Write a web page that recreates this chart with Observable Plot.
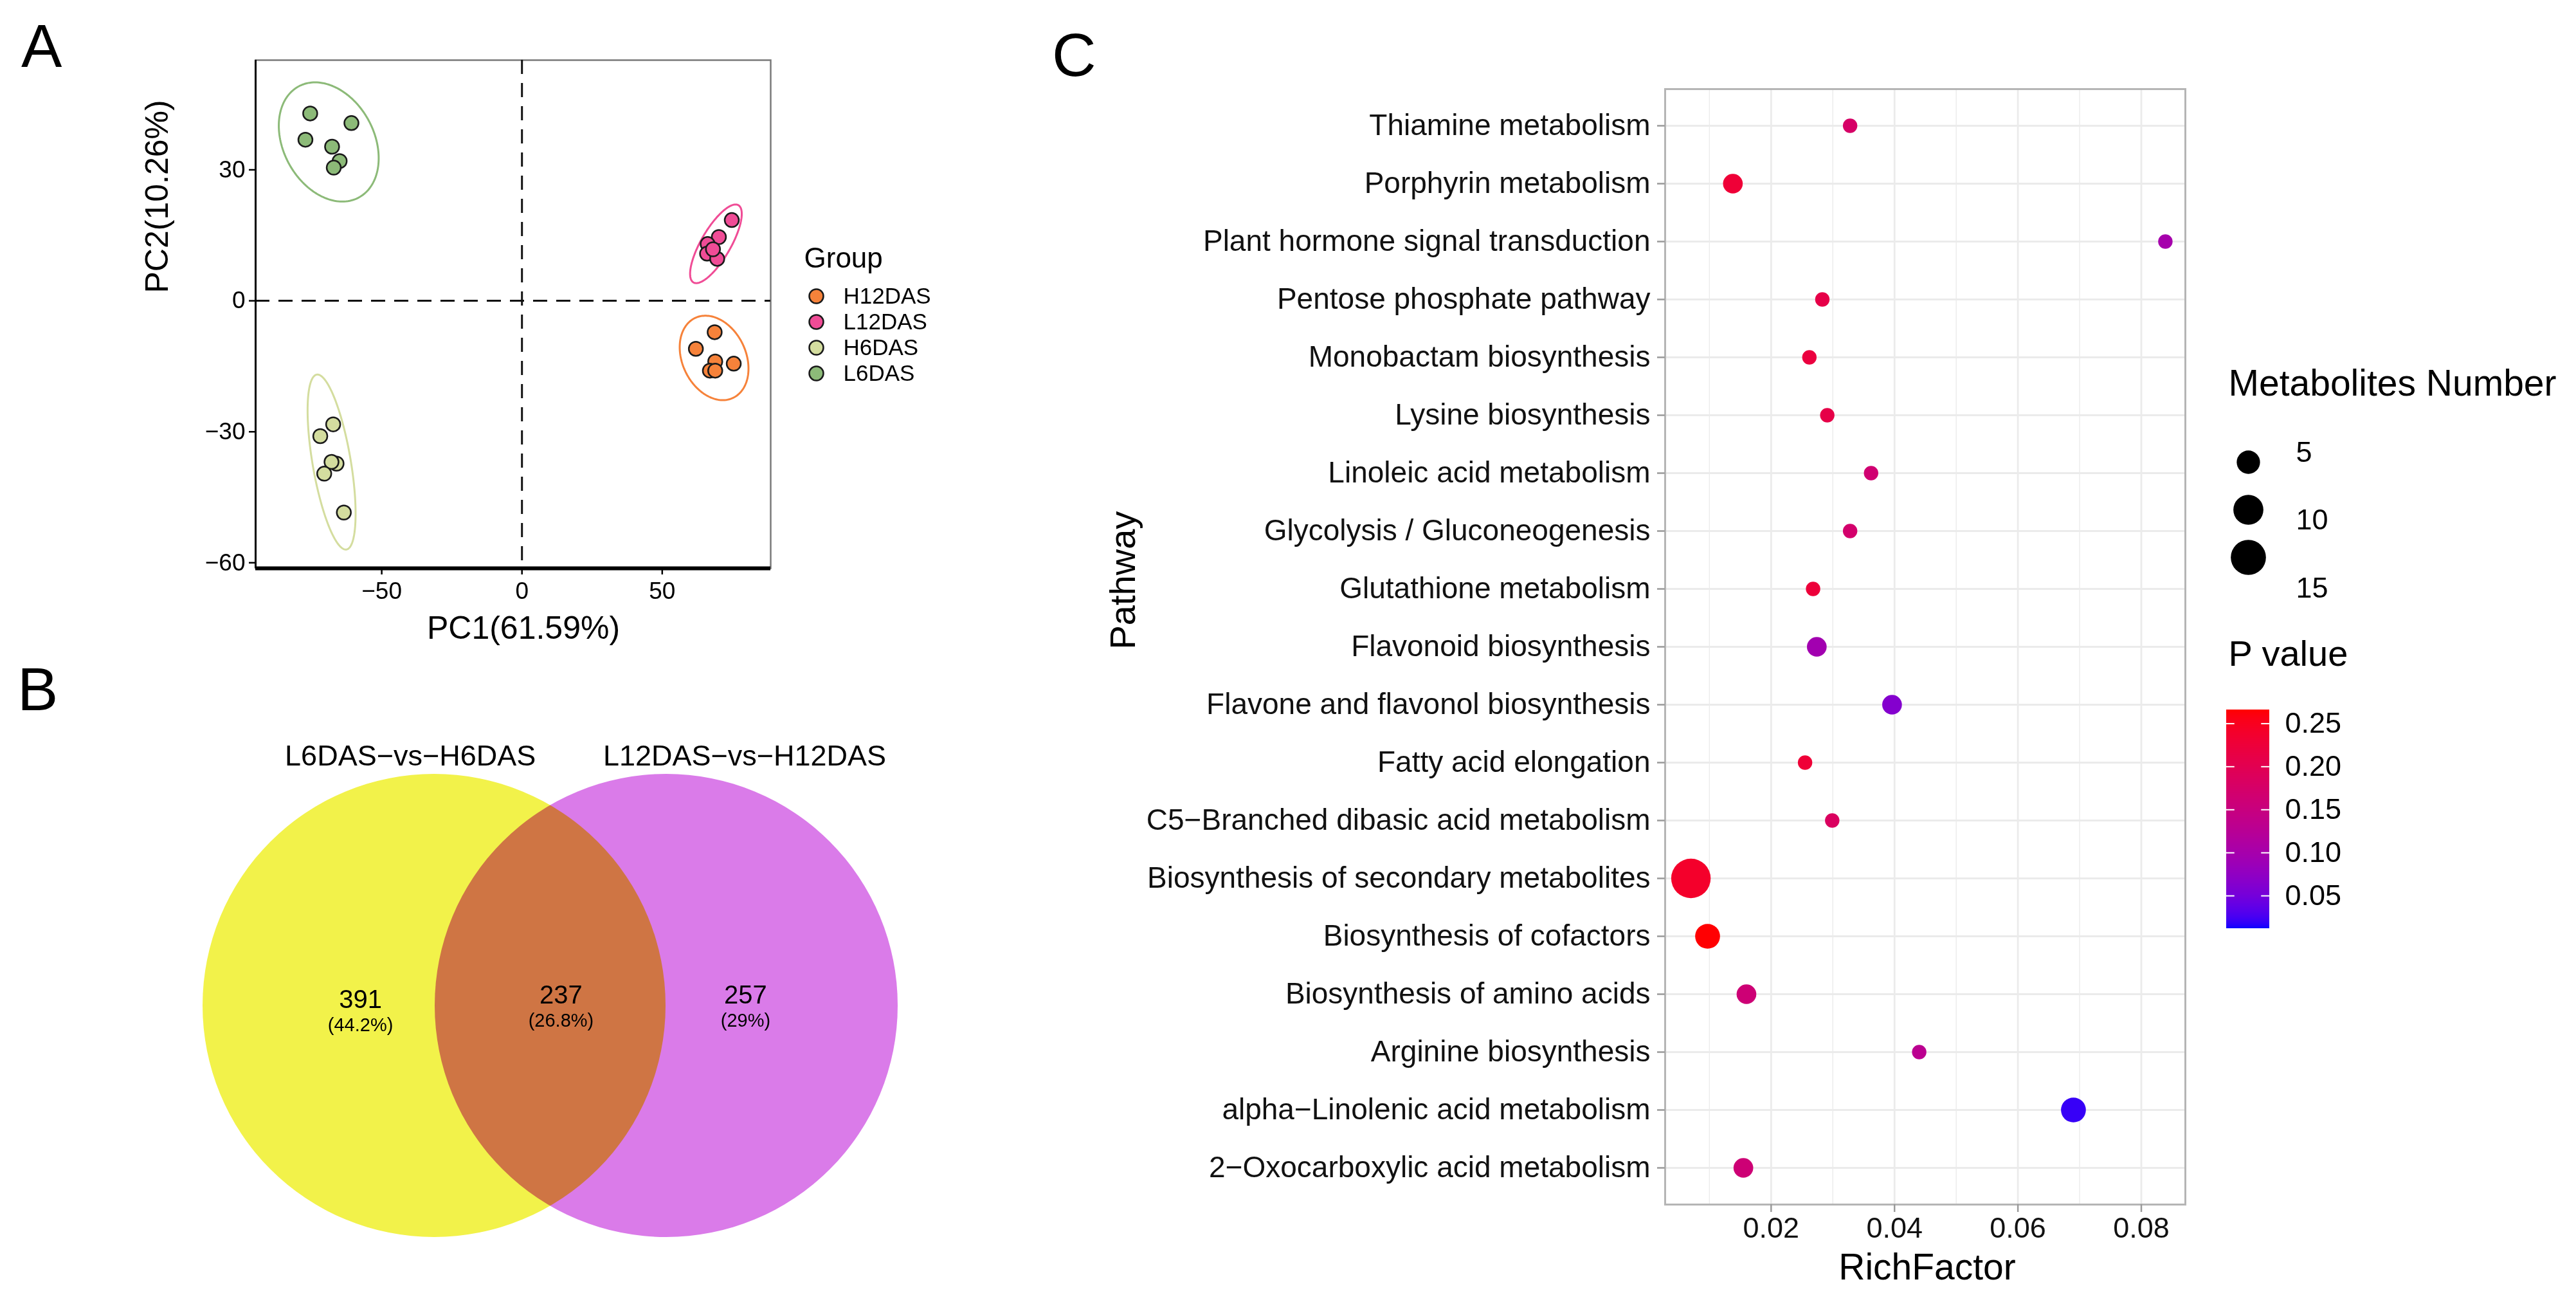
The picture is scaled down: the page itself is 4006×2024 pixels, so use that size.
<!DOCTYPE html>
<html><head><meta charset="utf-8">
<script src="https://cdn.jsdelivr.net/npm/d3@7"></script>
<script src="https://cdn.jsdelivr.net/npm/@observablehq/plot@0.6"></script>
<style>
html,body{margin:0;padding:0;background:#fff;width:4006px;height:2024px;overflow:hidden;}
.box{position:absolute;}
.box svg{max-width:none !important;display:block;}
.plabel{position:absolute;font-family:"Liberation Sans",Arial,sans-serif;font-size:95px;line-height:1;color:#000;}
</style></head><body>
<div class="plabel" style="left:33px;top:24px">A</div>
<div class="plabel" style="left:27px;top:1024px">B</div>
<div class="plabel" style="left:1636px;top:38px">C</div>
<div id="pA" class="box" style="left:0;top:0;width:1220px;height:1010px"></div>
<div id="pAleg" class="box" style="left:1220px;top:350px;width:260px;height:280px"></div>
<div id="pB" class="box" style="left:0;top:1010px;width:1500px;height:1014px"></div>
<div id="pC" class="box" style="left:1600px;top:0;width:1830px;height:2024px"></div>
<div id="pCsize" class="box" style="left:3440px;top:540px;width:560px;height:420px"></div>
<div id="pCcol" class="box" style="left:3440px;top:980px;width:560px;height:500px"></div>
<script>
// ---------- Panel A data (PCA) ----------
const groups = ["H12DAS", "L12DAS", "H6DAS", "L6DAS"];
const groupColors = ["#F6823A", "#F04C96", "#D4DD9F", "#8CBA78"];
const pcaGroup = ["L6DAS","L6DAS","L6DAS","L6DAS","L6DAS","L6DAS",
  "H6DAS","H6DAS","H6DAS","H6DAS","H6DAS","H6DAS",
  "L12DAS","L12DAS","L12DAS","L12DAS","L12DAS","L12DAS",
  "H12DAS","H12DAS","H12DAS","H12DAS","H12DAS","H12DAS"];
const pc1 = [-75.5,-60.8,-77.2,-67.7,-65.0,-67.1,
  -67.3,-71.9,-66.1,-67.9,-70.5,-63.5,
  74.8,70.2,66.2,66.0,69.6,68.1,
  68.7,62.0,68.9,75.5,67.0,68.9];
const pc2 = [42.9,40.7,36.9,35.3,32.0,30.5,
  -28.3,-31.0,-37.3,-36.9,-39.6,-48.5,
  18.5,14.6,13.0,10.8,9.6,11.8,
  -7.2,-11.0,-13.9,-14.4,-16.0,-16.0];
const pcaXTicks = [-50, 0, 50];
const pcaYTicks = [-60, -30, 0, 30];

// ---------- Panel B data (Venn) ----------
const vennSets = ["L6DAS\u2212vs\u2212H6DAS", "L12DAS\u2212vs\u2212H12DAS"];
const vennColors = ["#F2F24A", "#DA7BE9"];
const vennCounts = [391, 237, 257];
const vennPercents = ["(44.2%)", "(26.8%)", "(29%)"];

// ---------- Panel C data (enrichment) ----------
const pathways = ["Thiamine metabolism","Porphyrin metabolism","Plant hormone signal transduction",
  "Pentose phosphate pathway","Monobactam biosynthesis","Lysine biosynthesis","Linoleic acid metabolism",
  "Glycolysis / Gluconeogenesis","Glutathione metabolism","Flavonoid biosynthesis",
  "Flavone and flavonol biosynthesis","Fatty acid elongation","C5\u2212Branched dibasic acid metabolism",
  "Biosynthesis of secondary metabolites","Biosynthesis of cofactors","Biosynthesis of amino acids",
  "Arginine biosynthesis","alpha\u2212Linolenic acid metabolism","2\u2212Oxocarboxylic acid metabolism"];
const richFactor = [0.0328,0.0138,0.0839,0.0283,0.0262,0.0291,0.0362,0.0328,0.0268,0.0274,
  0.0396,0.0255,0.0299,0.0070,0.0097,0.0160,0.0440,0.0690,0.0155];
const metaboliteNumber = [1,3,1,1,1,1,1,1,1,3,3,1,1,20,6,3,1,6,3];
const pValue = [0.177,0.228,0.100,0.210,0.220,0.210,0.165,0.170,0.225,0.095,
  0.063,0.228,0.185,0.240,0.265,0.160,0.130,0.020,0.160];
const richTicks = [0.02, 0.04, 0.06, 0.08];
const richMinor = [0.01, 0.03, 0.05, 0.07];
const sizeBreaks = [5, 10, 15];
const pTicks = [0.05, 0.10, 0.15, 0.20, 0.25];

// ---------- shared settings ----------
const FONT = '"Liberation Sans", Arial, Helvetica, sans-serif';
const baseStyle = {fontFamily: FONT, fontSize: "36px", background: "transparent", overflow: "visible", color: "#000"};
const minusFmt = d => d < 0 ? "\u2212" + Math.abs(d) : String(d);
const colorA = {domain: groups, range: groupColors};
const rScaleC = {type: "pow", exponent: 0.5, domain: [1, 20], range: [11.2, 30.7]};
const pDomain = [0.012, 0.266];
const colorC = {type: "linear", domain: pDomain, range: ["blue", "red"], interpolate: d3.interpolateLab};

// ---------- Panel A ----------
const pca = pcaGroup.map((g, i) => ({group: g, x: pc1[i], y: pc2[i]}));
function ellipse(points, c, n = 160) {
  const xs = points.map(p => p.x), ys = points.map(p => p.y);
  const mx = d3.mean(xs), my = d3.mean(ys);
  const sxx = d3.variance(xs), syy = d3.variance(ys);
  let sxy = 0;
  for (let i = 0; i < xs.length; i++) sxy += (xs[i] - mx) * (ys[i] - my);
  sxy /= (xs.length - 1);
  const l11 = Math.sqrt(sxx), l21 = sxy / l11, l22 = Math.sqrt(Math.max(syy - l21 * l21, 1e-9));
  return d3.range(n + 1).map(k => {
    const t = 2 * Math.PI * k / n, u = Math.cos(t), v = Math.sin(t);
    return {x: mx + c * l11 * u, y: my + c * (l21 * u + l22 * v)};
  });
}
const ellipses = groups.flatMap(g => ellipse(pca.filter(d => d.group === g), 2.83).map(p => ({...p, group: g})));
const xDomA = [-94.96, 88.67], yDomA = [-61.28, 55.12];

document.getElementById("pA").append(Plot.plot({
  width: 1220, height: 1010,
  marginLeft: 397, marginRight: 22, marginTop: 93, marginBottom: 127,
  x: {domain: xDomA}, y: {domain: yDomA},
  color: colorA,
  style: baseStyle,
  marks: [
    Plot.frame({stroke: "#7a7a7a", strokeWidth: 2.5}),
    Plot.ruleX([0], {stroke: "#111", strokeWidth: 3, strokeDasharray: "22,14"}),
    Plot.ruleY([0], {stroke: "#111", strokeWidth: 3, strokeDasharray: "22,14"}),
    Plot.line(ellipses, {x: "x", y: "y", z: "group", stroke: "group", strokeWidth: 3, curve: "linear"}),
    Plot.dot(pca, {x: "x", y: "y", fill: "group", r: 11, stroke: "#1a1a1a", strokeWidth: 2.5}),
    Plot.ruleX([xDomA[0]], {stroke: "#000", strokeWidth: 3}),
    Plot.ruleY([yDomA[0]], {stroke: "#000", strokeWidth: 6}),
    Plot.axisX({ticks: pcaXTicks, tickFormat: minusFmt, tickSize: 10, tickPadding: 11, fontSize: 37, strokeWidth: 2.5, label: null}),
    Plot.axisY({ticks: pcaYTicks, tickFormat: minusFmt, tickSize: 10, tickPadding: 6, fontSize: 37, strokeWidth: 2.5, label: null}),
    Plot.text(["PC1(61.59%)"], {frameAnchor: "bottom", dy: 93, dx: 16, fontSize: 50, lineAnchor: "middle"}),
    Plot.text(["PC2(10.26%)"], {frameAnchor: "left", dx: -153, dy: -33, rotate: -90, fontSize: 50, lineAnchor: "middle"})
  ]
}));

document.getElementById("pAleg").append(Plot.plot({
  width: 260, height: 280, margin: 0,
  y: {type: "point", domain: groups, range: [110, 230], padding: 0, axis: null},
  color: colorA,
  style: baseStyle,
  marks: [
    Plot.text(["Group"], {frameAnchor: "top-left", dx: 30, dy: 51, fontSize: 44, textAnchor: "start", lineAnchor: "middle"}),
    Plot.dot(groups, {y: d => d, frameAnchor: "left", dx: 49, r: 11, fill: d => d, stroke: "#1a1a1a", strokeWidth: 2.5}),
    Plot.text(groups, {y: d => d, frameAnchor: "left", dx: 91, text: d => d, textAnchor: "start", fontSize: 35, lineAnchor: "middle"})
  ]
}));

// ---------- Panel B ----------
const unit = 361;                 // px per radius unit
const vW = 1500, vH = 1014, cx0 = 674.5, cy0 = 552.5;
const vennLayout = {
  centers: [0, 1],
  titleX: [-0.102, 1.338], titleY: 1.073,
  regionX: [-0.317, 0.547, 1.342], regionY: [0.024, 0.043, 0.043]
};
const vennCircles = vennSets.map((s, i) => ({set: s, color: vennColors[i], x: vennLayout.centers[i], y: 0}));
const vennRegions = vennCounts.map((c, i) => ({count: c, pct: vennPercents[i], x: vennLayout.regionX[i], y: vennLayout.regionY[i]}));
document.getElementById("pB").append(Plot.plot({
  width: vW, height: vH, margin: 0,
  x: {domain: [-cx0 / unit, (vW - cx0) / unit], axis: null},
  y: {domain: [-(vH - cy0) / unit, cy0 / unit], axis: null},
  color: {type: "identity"},
  style: baseStyle,
  marks: [
    Plot.dot(vennCircles.slice(0, 1), {x: "x", y: "y", r: unit - 1, fill: "color", stroke: "none"}),
    Plot.dot(vennCircles.slice(1), {x: "x", y: "y", r: unit - 1, fill: "color", stroke: "none", mixBlendMode: "multiply"}),
    Plot.text(vennSets, {x: (d, i) => vennLayout.titleX[i], y: vennLayout.titleY, text: d => d, fontSize: 45}),
    Plot.text(vennRegions, {x: "x", y: "y", text: d => String(d.count), fontSize: 40}),
    Plot.text(vennRegions, {x: "x", y: "y", text: "pct", fontSize: 29, dy: 39})
  ]
}));

// ---------- Panel C ----------
const enrich = pathways.map((p, i) => ({pathway: p, rich: richFactor[i], n: metaboliteNumber[i], p: pValue[i]}));
document.getElementById("pC").append(Plot.plot({
  width: 1830, height: 2024,
  marginLeft: 989, marginRight: 32, marginTop: 138, marginBottom: 152,
  x: {domain: [0.00282, 0.08714]},
  y: {type: "point", domain: pathways, padding: 0.6},
  r: rScaleC,
  color: colorC,
  style: baseStyle,
  marks: [
    Plot.ruleX(richMinor, {stroke: "#EBEBEB", strokeWidth: 1.4}),
    Plot.ruleX(richTicks, {stroke: "#EBEBEB", strokeWidth: 2.8}),
    Plot.ruleY(pathways, {stroke: "#EBEBEB", strokeWidth: 2.8}),
    Plot.dot(enrich, {x: "rich", y: "pathway", r: "n", fill: "p", stroke: "none"}),
    Plot.frame({stroke: "#B5B5B5", strokeWidth: 3}),
    Plot.axisY({tickSize: 12, tickPadding: 11, fontSize: 46, stroke: "#9a9a9a", strokeWidth: 2.5, fill: "#111", label: null}),
    Plot.axisX({ticks: richTicks, tickFormat: d3.format(".2f"), tickSize: 12, tickPadding: 8, fontSize: 45, stroke: "#9a9a9a", strokeWidth: 2.5, fill: "#111", label: null}),
    Plot.text(["Pathway"], {frameAnchor: "left", dx: -842, dy: 4, rotate: -90, fontSize: 56, lineAnchor: "middle"}),
    Plot.text(["RichFactor"], {frameAnchor: "bottom", dy: 98, dx: 3, fontSize: 57, lineAnchor: "middle"})
  ]
}));

document.getElementById("pCsize").append(Plot.plot({
  width: 560, height: 420, margin: 0,
  y: {type: "point", domain: sizeBreaks, range: [178, 326], padding: 0, axis: null},
  r: rScaleC,
  style: baseStyle,
  marks: [
    Plot.text(["Metabolites Number"], {frameAnchor: "top-left", dx: 25, dy: 56, fontSize: 57, textAnchor: "start", lineAnchor: "middle"}),
    Plot.dot(sizeBreaks, {y: d => d, r: d => d, frameAnchor: "left", dx: 56, fill: "#000", stroke: "none"}),
    ...sizeBreaks.map((v, i) => Plot.text([v], {y: d => d, text: d => String(d), frameAnchor: "left", dx: 130, dy: -15 + 31.5 * i, fontSize: 45, textAnchor: "start", lineAnchor: "middle"}))
  ]
}));

const nSteps = 340;
const steps = d3.range(nSteps).map(i => {
  const a = pDomain[0] + (pDomain[1] - pDomain[0]) * i / nSteps;
  const b = pDomain[0] + (pDomain[1] - pDomain[0]) * (i + 1.6) / nSteps;
  return {a, b: Math.min(b, pDomain[1]), m: (a + Math.min(b, pDomain[1])) / 2};
});
document.getElementById("pCcol").append(Plot.plot({
  width: 560, height: 500, margin: 0,
  x: {domain: [0, 1], range: [22, 89], axis: null},
  y: {domain: pDomain, range: [463, 123], axis: null},
  color: colorC,
  style: baseStyle,
  marks: [
    Plot.text(["P value"], {frameAnchor: "top-left", dx: 25, dy: 37, fontSize: 56, textAnchor: "start", lineAnchor: "middle"}),
    Plot.rect(steps, {x1: 0, x2: 1, y1: "a", y2: "b", fill: "m"}),
    Plot.ruleY(pTicks, {y: d => d, x1: 0, x2: 0.19, stroke: "#fff", strokeWidth: 2}),
    Plot.ruleY(pTicks, {y: d => d, x1: 0.81, x2: 1, stroke: "#fff", strokeWidth: 2}),
    Plot.text(pTicks, {y: d => d, x: 1, dx: 24, text: d3.format(".2f"), textAnchor: "start", fontSize: 45, lineAnchor: "middle"})
  ]
}));
</script>
</body></html>
